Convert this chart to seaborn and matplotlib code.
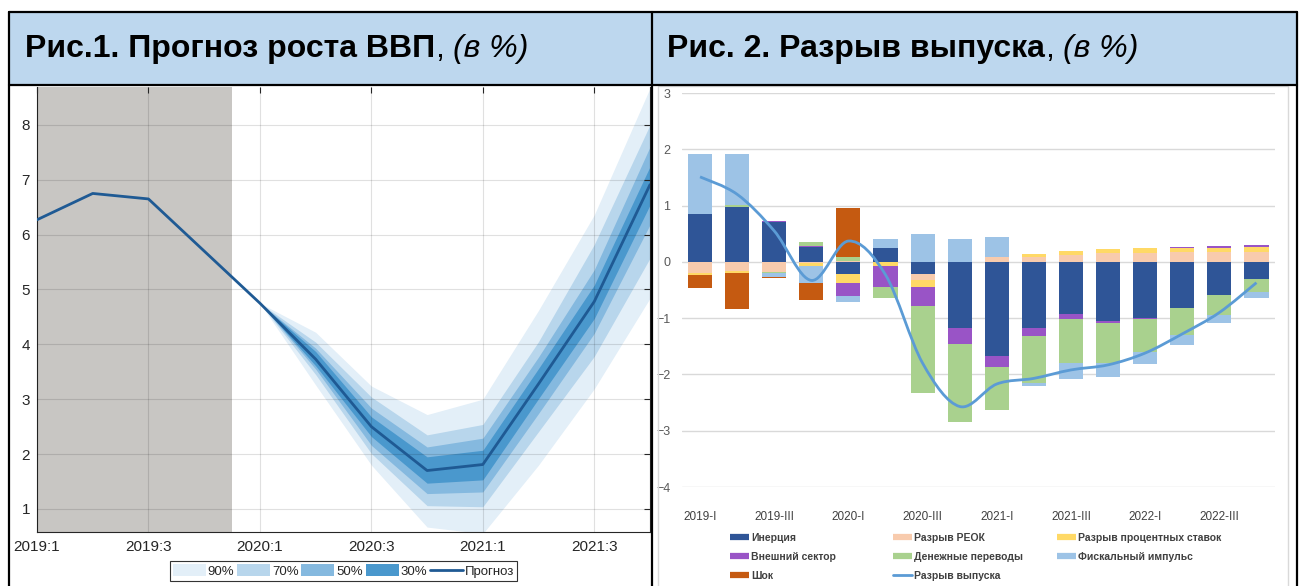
import numpy as np
import seaborn as sns
import matplotlib.pyplot as plt
from matplotlib.patches import Rectangle, Patch, PathPatch
from matplotlib.lines import Line2D
from matplotlib.path import Path

# --- Fig. 1: GDP growth forecast, %
quarters = list(range(12))
quarter_ticks = [0, 2, 4, 6, 8, 10]
quarter_labels = ['2019:1', '2019:3', '2020:1', '2020:3', '2021:1', '2021:3']
gdp = [6.27, 6.75, 6.65, 5.70, 4.75, 3.73, 2.50, 1.70, 1.81, 3.28, 4.78, 6.91]
history_end = 3.5

fan_q = [4, 5, 6, 7, 8, 9, 10, 11]
fan90_lo = [4.75, 3.26, 1.80, 0.67, 0.55, 1.80, 3.19, 4.84]
fan90_hi = [4.75, 4.22, 3.24, 2.72, 3.00, 4.62, 6.36, 8.67]
fan70_lo = [4.75, 3.45, 2.01, 1.06, 1.04, 2.41, 3.78, 5.57]
fan70_hi = [4.75, 4.04, 3.04, 2.35, 2.54, 4.05, 5.82, 8.00]
fan50_lo = [4.75, 3.55, 2.16, 1.28, 1.31, 2.74, 4.20, 6.18]
fan50_hi = [4.75, 3.93, 2.84, 2.13, 2.29, 3.77, 5.36, 7.60]
fan30_lo = [4.75, 3.61, 2.32, 1.47, 1.53, 3.01, 4.47, 6.54]
fan30_hi = [4.75, 3.87, 2.68, 1.95, 2.07, 3.56, 5.08, 7.24]

# --- Fig. 2: output gap decomposition
periods = ['2019-I', '2019-II', '2019-III', '2019-IV',
           '2020-I', '2020-II', '2020-III', '2020-IV',
           '2021-I', '2021-II', '2021-III', '2021-IV',
           '2022-I', '2022-II', '2022-III', '2022-IV']
inertia = [0.85, 0.98, 0.70, 0.27, -0.22, 0.24, -0.21, -1.18,
           -1.67, -1.18, -0.93, -1.05, -1.00, -0.82, -0.59, -0.31]
reer_gap = [-0.20, -0.17, -0.18, -0.02, 0.02, -0.01, -0.12, 0.0,
            0.095, 0.09, 0.13, 0.155, 0.165, 0.17, 0.17, 0.18]
rate_gap = [-0.035, -0.02, 0.0, -0.05, -0.15, -0.06, -0.12, 0.0,
            0.0, 0.05, 0.06, 0.07, 0.08, 0.08, 0.08, 0.09]
external = [0.0, 0.0, 0.02, 0.02, -0.24, -0.37, -0.34, -0.28,
            -0.195, -0.13, -0.08, -0.04, -0.01, 0.02, 0.025, 0.03]
remittances = [0.0, 0.03, -0.02, 0.06, 0.065, -0.21, -1.54, -1.39,
               -0.76, -0.84, -0.79, -0.71, -0.60, -0.48, -0.36, -0.23]
fiscal = [1.06, 0.91, -0.07, -0.30, -0.11, 0.16, 0.49, 0.41,
          0.355, -0.06, -0.28, -0.25, -0.21, -0.17, -0.13, -0.11]
shock = [-0.225, -0.64, -0.02, -0.31, 0.88, 0.0, 0.0, 0.0,
         0.0, 0.0, 0.0, 0.0, 0.0, 0.0, 0.0, 0.0]
output_gap = [1.51, 1.20, 0.55, -0.33, 0.37, -0.23, -1.80, -2.57,
              -2.17, -2.07, -1.92, -1.83, -1.62, -1.28, -0.90, -0.37]

components = [
    ('Инерция', inertia, '#2F5597'),
    ('Разрыв РЕОК', reer_gap, '#F8CBAD'),
    ('Разрыв процентных ставок', rate_gap, '#FFD966'),
    ('Внешний сектор', external, '#9954C6'),
    ('Денежные переводы', remittances, '#A9D18E'),
    ('Фискальный импульс', fiscal, '#9DC3E6'),
    ('Шок', shock, '#C55A11'),
]
gap_color = '#5B9BD5'

sns.set_style('white')
plt.rcParams['font.family'] = ['Liberation Sans', 'DejaVu Sans']

W, H = 1300, 586
fig = plt.figure(figsize=(13, 5.86), dpi=100)


def fx(px):
    return px / W


def fy(py):
    return 1 - py / H


# table frame with the blue header row
fig.patches.append(Rectangle((fx(9), fy(85)), fx(1297) - fx(9), (85 - 12) / H,
                             transform=fig.transFigure, facecolor='#BDD7EE',
                             edgecolor='none', zorder=0))
fig.patches.append(Rectangle((fx(658), fy(590)), fx(1288) - fx(658), (590 - 86) / H,
                             transform=fig.transFigure, facecolor='none',
                             edgecolor='#d9d9d9', lw=1, zorder=0))
for x0, y0, x1, y1 in [(9, 12, 1297, 12), (9, 85, 1297, 85),
                       (9, 12, 9, 590), (652, 12, 652, 590), (1297, 12, 1297, 590)]:
    fig.add_artist(Line2D([fx(x0), fx(x1)], [fy(y0), fy(y1)],
                          transform=fig.transFigure, color='black', lw=1.6, zorder=5))

renderer = fig.canvas.get_renderer()


def header_title(x_px, bold_text):
    x = fx(x_px)
    parts = [(bold_text, dict(fontweight='bold'), 0),
             (',', dict(), 0),
             ('(в %)', dict(fontstyle='italic'), 9)]
    for text, kw, gap in parts:
        x += gap / W
        t = fig.text(x, fy(49), text, va='center', ha='left', fontsize=23,
                     color='black', **kw)
        bb = t.get_window_extent(renderer)
        x = fig.transFigure.inverted().transform((bb.x1, 0))[0]


header_title(25, 'Рис.1. Прогноз роста ВВП')
header_title(667, 'Рис. 2. Разрыв выпуска')

# ---------------- left chart: fan chart
ax1 = fig.add_axes([fx(37), fy(532), fx(650) - fx(37), fy(87) - fy(532)])
ax1.axvspan(0, history_end, color='#c8c6c3', lw=0, zorder=0.5)
fan_colors = ['#e3eff8', '#b8d6ec', '#85b9df', '#4a98cd']
bands = [(fan90_lo, fan90_hi), (fan70_lo, fan70_hi),
         (fan50_lo, fan50_hi), (fan30_lo, fan30_hi)]
for (lo, hi), c in zip(bands, fan_colors):
    ax1.fill_between(fan_q, lo, hi, color=c, lw=0, zorder=1)
sns.lineplot(x=quarters, y=gdp, ax=ax1, color='#1f5a94', lw=2, zorder=3)

ax1.set_xlim(0, 11)
ax1.set_ylim(0.58, 8.69)
ax1.set_xticks(quarter_ticks)
ax1.set_xticklabels(quarter_labels)
ax1.set_yticks(range(1, 9))
ax1.set_axisbelow(False)
ax1.grid(True, color='black', alpha=0.12, lw=0.8)
ax1.tick_params(direction='in', length=4, width=0.8, color='#262626',
                labelsize=11, labelcolor='#262626', top=True, right=True)
ax1.tick_params(axis='x', pad=6)
ax1.tick_params(axis='y', pad=5)
for s in ax1.spines.values():
    s.set_color('#262626')
    s.set_linewidth(0.8)
ax1.spines['top'].set_visible(False)

fan_handles = [Patch(facecolor=c, edgecolor='none') for c in fan_colors]
fan_handles.append(Line2D([], [], color='#1f5a94', lw=2))
leg1 = fig.legend(fan_handles, ['90%', '70%', '50%', '30%', 'Прогноз'],
                  loc='upper center', bbox_to_anchor=(fx(343.5), fy(561)),
                  ncol=5, fontsize=9.5, handlelength=2.5, handleheight=1.0,
                  handletextpad=0.15, columnspacing=0.2, borderpad=0.25,
                  borderaxespad=0, fancybox=False, framealpha=1,
                  edgecolor='#333333')
leg1.get_frame().set_linewidth(0.8)

# ---------------- right chart: stacked contributions + output gap
ax2 = fig.add_axes([fx(681.5), fy(487), (1275 - 681.5) / W, (487 - 93) / H])
pos_base = np.zeros(len(periods))
neg_base = np.zeros(len(periods))
for name, vals, c in components:
    v = np.array(vals)
    bottom = np.where(v >= 0, pos_base, neg_base)
    sns.barplot(x=periods, y=v, order=periods, bottom=bottom, color=c,
                saturation=1, width=0.65, errorbar=None, linewidth=0,
                ax=ax2, zorder=2)
    pos_base = pos_base + np.clip(v, 0, None)
    neg_base = neg_base + np.clip(v, None, 0)

# smoothed line through the output gap values (Excel-style smoothing)
pts = np.column_stack([np.arange(len(periods)), output_gap]).astype(float)
verts, codes = [pts[0]], [Path.MOVETO]
n = len(pts)
for i in range(n - 1):
    p0, p1 = pts[max(i - 1, 0)], pts[i]
    p2, p3 = pts[i + 1], pts[min(i + 2, n - 1)]
    verts += [p1 + (p2 - p0) / 6, p2 - (p3 - p1) / 6, p2]
    codes += [Path.CURVE4] * 3
ax2.add_patch(PathPatch(Path(verts, codes), fill=False, edgecolor=gap_color,
                        lw=2, zorder=4))

ax2.set_xlim(-0.5, 15.5)
ax2.set_ylim(-4, 3)
ax2.set_yticks(range(-4, 4))
ax2.set_xticks(range(0, 16, 2))
ax2.set_xticklabels(periods[::2])
ax2.set_xlabel('')
ax2.set_ylabel('')
ax2.set_axisbelow(True)
ax2.grid(axis='y', color='#d9d9d9', lw=1)
ax2.grid(axis='x', visible=False)
sns.despine(ax=ax2, left=True, bottom=True)
ax2.tick_params(length=0)
ax2.tick_params(axis='x', pad=17, labelsize=8.5, labelcolor='#404040')
ax2.tick_params(axis='y', pad=8, labelsize=9, labelcolor='#595959')


def bar_handle(c):
    return Line2D([], [], color=c, lw=4.5, solid_capstyle='butt')


colors = {name: c for name, _, c in components}
columns = [
    (730, ['Инерция', 'Внешний сектор', 'Шок']),
    (893, ['Разрыв РЕОК', 'Денежные переводы', 'Разрыв выпуска']),
    (1057, ['Разрыв процентных ставок', 'Фискальный импульс']),
]
for x_px, names in columns:
    handles = []
    for nm in names:
        if nm == 'Разрыв выпуска':
            handles.append(Line2D([], [], color=gap_color, lw=2))
        else:
            handles.append(bar_handle(colors[nm]))
    fig.legend(handles, names, loc='upper left',
               bbox_to_anchor=(fx(x_px), fy(533)), frameon=False,
               prop={'size': 7.5, 'weight': 'bold'}, labelcolor='#404040',
               handlelength=1.8, handletextpad=0.2, labelspacing=0.85,
               borderpad=0, borderaxespad=0)

fig.savefig('out.png', dpi=100)
